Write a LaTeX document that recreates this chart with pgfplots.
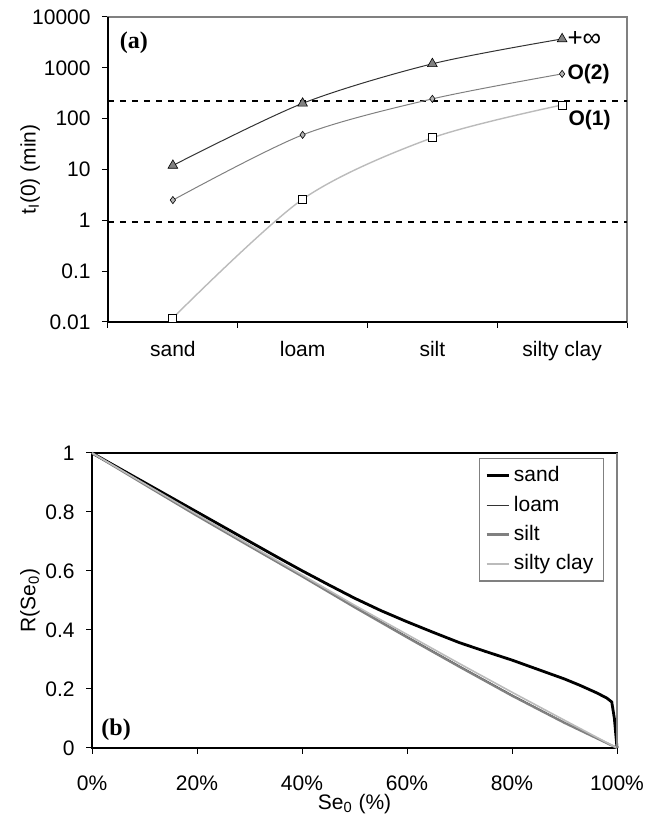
\documentclass[border=0pt]{standalone}
\usepackage{fontspec}
\setmainfont{Liberation Sans}
\newfontfamily\serifbf{Liberation Serif}
\usepackage{pgfplots}
\pgfplotsset{compat=1.18}

\definecolor{dkline}{HTML}{333333}
\definecolor{mdline}{HTML}{808080}
\definecolor{ltline}{HTML}{BBBBBB}

\begin{document}
\fontsize{10.5}{12.6}\selectfont
\begin{tikzpicture}
\path[use as bounding box] (0,0) rectangle (328.5pt,409.5pt);

% (a) time to ponding, log scale
\begin{axis}[
    at={(54pt,248.5pt)}, anchor=south west,
    scale only axis, width=259.5pt, height=152.5pt,
    ymode=log, ymin=0.01, ymax=10000,
    xmin=-0.5, xmax=3.5,
    ytick={0.01,0.1,1,10,100,1000,10000},
    yticklabels={0.01,0.1,1,10,100,1000,10000},
    minor y tick style={draw=none},
    xtick={-0.5,0.5,1.5,2.5,3.5}, xticklabels={},
    extra x ticks={0,1,2,3},
    extra x tick labels={sand,loam,silt,silty clay},
    extra x tick style={major tick length=0pt},
    xticklabel style={yshift=-6pt},
    yticklabel style={xshift=-2pt},
    tick align=outside, xtick pos=bottom, ytick pos=left,
    major tick length=3pt, tick style={black, line width=0.5pt},
    axis line style={mdline, line width=0.6pt},
    ylabel={t\textsubscript{I}(0) (min)},
    ylabel style={at={(axis description cs:-0.150,0.5)}, anchor=center},
    clip=false,
]
\addplot[black, dashed, line width=0.7pt] coordinates {(-0.5,224) (3.5,224)};
\addplot[black, dashed, line width=0.7pt] coordinates {(-0.5,0.93) (3.5,0.93)};

\addplot[ltline, line width=0.7pt, smooth, mark=square*,
    mark size=2pt, mark options={fill=white, draw=black, line width=0.4pt}]
    coordinates {(0,0.012) (1,2.6) (2,42) (3,186)};
\addplot[mdline, line width=0.5pt, smooth, mark=diamond*,
    mark size=1.8pt, mark options={fill=gray!60, draw=black, line width=0.3pt}]
    coordinates {(0,2.5) (1,48) (2,245) (3,760)};
\addplot[dkline, line width=0.5pt, smooth, mark=triangle*,
    mark size=2.8pt, mark options={fill=gray, draw=black, line width=0.3pt}]
    coordinates {(0,12) (1,200) (2,1200) (3,3700)};

\draw[black, line width=0.6pt] (rel axis cs:0,1) -- (rel axis cs:0,0) -- (rel axis cs:1,0);

\node[anchor=west, inner sep=0pt, xshift=2.5pt, font=\fontsize{13}{14}\selectfont] at (axis cs:3,3700) {+∞};
\node[anchor=west, inner sep=0pt, xshift=2.5pt, font=\fontsize{10.5}{12}\selectfont\bfseries] at (axis cs:3,760) {O(2)};
\node[anchor=north west, inner sep=0pt, xshift=3pt, yshift=-2.5pt, font=\fontsize{10.5}{12}\selectfont\bfseries] at (axis cs:3,186) {O(1)};
\node[font=\fontsize{12}{14}\serifbf\bfseries\selectfont] at (rel axis cs:0.05,0.915) {(a)};
\end{axis}

% (b) relative ponding time
\begin{axis}[
    at={(46pt,35.5pt)}, anchor=south west,
    scale only axis, width=262.5pt, height=147.5pt,
    xmin=0, xmax=1, ymin=0, ymax=1,
    xtick={0,0.2,0.4,0.6,0.8,1},
    xticklabels={0\%,20\%,40\%,60\%,80\%,100\%},
    ytick={0,0.2,0.4,0.6,0.8,1},
    yticklabels={0,0.2,0.4,0.6,0.8,1},
    xticklabel style={yshift=-7pt},
    yticklabel style={xshift=-2pt},
    tick align=outside, xtick pos=bottom, ytick pos=left,
    major tick length=3pt, tick style={black, line width=0.5pt},
    axis line style={black, line width=0.6pt},
    xlabel={Se\textsubscript{0} (\%)},
    xlabel style={at={(axis description cs:0.5,-0.19)}, anchor=center},
    ylabel={R(Se\textsubscript{0})},
    ylabel style={at={(axis description cs:-0.118,0.5)}, anchor=center},
    legend style={at={(0.975,0.983)}, anchor=north east, draw=mdline,
        line width=0.6pt, cells={anchor=west}, row sep=1.5pt,
        inner xsep=3pt, inner ysep=2pt},
    legend image code/.code={\draw[#1] (0pt,0pt) -- (11pt,0pt);},
    clip=false,
]
\addplot[black, line width=1.4pt] coordinates {
    (0,1) (0.1,0.9) (0.2,0.8) (0.3,0.7) (0.35,0.65) (0.4,0.601)
    (0.45,0.554) (0.5,0.508) (0.55,0.466) (0.6,0.428) (0.65,0.392)
    (0.7,0.357) (0.75,0.327) (0.8,0.298) (0.85,0.266) (0.9,0.234)
    (0.93,0.212) (0.96,0.188) (0.98,0.17) (0.99,0.156) (0.995,0.10) (1,0)
};
\addlegendentry{sand}
\addplot[dkline, line width=0.5pt] coordinates {
    (0,1) (0.1,0.895) (0.2,0.79) (0.3,0.687) (0.4,0.585) (0.5,0.48)
    (0.6,0.378) (0.7,0.278) (0.8,0.18) (0.9,0.087) (1,0)
};
\addlegendentry{loam}
\addplot[mdline, line width=1.1pt] coordinates {
    (0,1) (0.1,0.893) (0.2,0.787) (0.3,0.684) (0.4,0.582) (0.5,0.477)
    (0.6,0.375) (0.7,0.275) (0.8,0.177) (0.9,0.085) (1,0)
};
\addlegendentry{silt}
\addplot[ltline, line width=0.8pt] coordinates {
    (0,1) (0.1,0.896) (0.2,0.792) (0.3,0.689) (0.4,0.587) (0.5,0.484)
    (0.6,0.385) (0.7,0.286) (0.8,0.189) (0.9,0.094) (1,0)
};
\addlegendentry{silty clay}

\draw[mdline, line width=0.6pt] (rel axis cs:1,0) -- (rel axis cs:1,1);
\node[font=\fontsize{12}{14}\serifbf\bfseries\selectfont] at (rel axis cs:0.046,0.061) {(b)};
\end{axis}
\end{tikzpicture}
\end{document}
